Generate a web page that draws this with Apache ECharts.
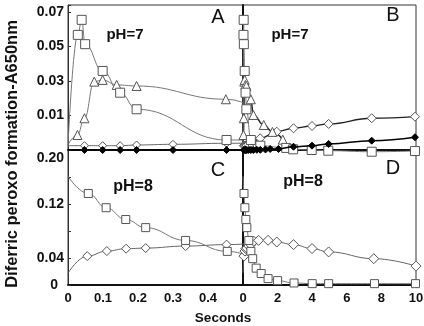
<!DOCTYPE html>
<html>
<head>
<meta charset="utf-8">
<script src="https://cdn.jsdelivr.net/npm/echarts@6/dist/echarts.min.js"></script>
<style>
html, body { margin: 0; padding: 0; background: #fff; }
#chart { width: 424px; height: 326px; }
</style>
</head>
<body>
<div id="chart"></div>
<script>
// pH 7 data (panels A and B share it, A only shows the first 0.5 s)
let ph7SquareT = [0, 0.028, 0.039, 0.049, 0.099, 0.149, 0.196, 0.453, 1.0, 2.5, 2.9, 3.97, 4.93, 7.44, 9.94];
let ph7SquareV = [-0.007, 0.0567, 0.0654, 0.0513, 0.0358, 0.0232, 0.0136, -0.0042, -0.0075, -0.0088, -0.0096, -0.01, -0.0104, -0.011, -0.0106];
let ph7TriT = [0, 0.027, 0.047, 0.075, 0.099, 0.139, 0.196, 0.451, 0.6, 1.2, 1.7, 2.3];
let ph7TriV = [-0.007, -0.0013, 0.0084, 0.0296, 0.0306, 0.0277, 0.0271, 0.0194, 0.0103, 0.0045, 0.0005, -0.004];
let ph7OpenT = [0, 0.047, 0.099, 0.149, 0.196, 0.3, 0.453, 0.99, 1.95, 2.92, 3.99, 4.95, 7.44, 9.94];
let ph7OpenV = [-0.0075, -0.0075, -0.0075, -0.0075, -0.0071, -0.0067, -0.0061, -0.0032, 0.0006, 0.0026, 0.0039, 0.0051, 0.0084, 0.0093];
let ph7FillT = [0, 0.047, 0.099, 0.149, 0.196, 0.3, 0.453, 0.6, 0.8, 1.0, 1.3, 1.57, 2.05, 2.92, 3.99, 4.95, 7.44, 9.94];
let ph7FillV = [-0.01, -0.01, -0.01, -0.01, -0.01, -0.01, -0.01, -0.01, -0.0099, -0.0099, -0.0097, -0.0094, -0.0094, -0.0081, -0.0075, -0.0065, -0.0046, -0.0026];

// pH 8 data (panels C and D)
let ph8SquareT = [0, 0.058, 0.109, 0.165, 0.222, 0.336, 0.455, 0.56, 0.76, 1.05, 1.45, 2.0, 2.95, 4.0, 4.95, 7.6, 9.97];
let ph8SquareV = [0.161, 0.1356, 0.1145, 0.097, 0.085, 0.066, 0.0498, 0.039, 0.025, 0.017, 0.0095, 0.0065, 0.003, 0.002, 0.002, 0.002, 0.002];
let ph8DiaT = [0, 0.055, 0.111, 0.166, 0.222, 0.336, 0.453, 0.62, 0.9, 1.45, 1.95, 2.92, 3.99, 4.95, 7.56, 10.0];
let ph8DiaV = [0.0175, 0.0428, 0.0503, 0.0538, 0.0547, 0.0577, 0.0598, 0.065, 0.0662, 0.0662, 0.0637, 0.0598, 0.054, 0.049, 0.039, 0.028];

let shortTicks = [0, 0.1, 0.2, 0.3, 0.4];
let longTicks = [0, 2, 4, 6, 8, 10];
let topLabels = [0.01, 0.03, 0.05, 0.07];
let bottomLabels = [0, 0.04, 0.12, 0.2];

const FONT = '"Liberation Sans", Arial, sans-serif';

let chart = echarts.init(document.getElementById('chart'));

// first point of every curve is the fitted start, drawn without a marker
function points(t, v) {
    return t.map(function (x, i) {
        if (i === 0) return { value: [x, v[i]], symbol: 'none' };
        return [x, v[i]];
    });
}

let looks = {
    square: { symbol: 'rect', size: 8, fill: '#fff', border: '#555', line: '#777', lw: 1 },
    tri: { symbol: 'triangle', size: 9, fill: '#fff', border: '#555', line: '#777', lw: 1 },
    open: { symbol: 'diamond', size: 9, fill: '#fff', border: '#555', line: '#666', lw: 1 },
    fill: { symbol: 'diamond', size: 7, fill: '#000', border: '#000', line: '#000', lw: 1.5 }
};

function makeSeries(idx, t, v, look, clip, extra) {
    extra = extra || {};
    return {
        type: 'line',
        xAxisIndex: idx,
        yAxisIndex: idx,
        data: points(t, v),
        symbol: look.symbol,
        symbolSize: extra.size || look.size,
        smooth: 0.45,
        smoothMonotone: 'x',
        clip: clip,
        animation: false,
        itemStyle: { color: look.fill, borderColor: look.border, borderWidth: 1 },
        lineStyle: { color: extra.line || look.line, width: extra.lw || look.lw },
        z: extra.z || 2
    };
}

let grids = [
    { left: 68, top: 5, width: 175, height: 145 },
    { left: 243, top: 5, width: 173, height: 145 },
    { left: 68, top: 150, width: 175, height: 135 },
    { left: 243, top: 150, width: 173, height: 135 }
].map(function (g) {
    return Object.assign(g, { show: true, borderColor: '#333', borderWidth: 1, outerBoundsMode: 'none', containLabel: false });
});

function xAx(idx, max, interval, showLabels, allowed) {
    return {
        type: 'value', gridIndex: idx, min: 0, max: max, interval: interval,
        splitLine: { show: false },
        axisTick: { show: false },
        axisLine: { show: true, onZero: false, lineStyle: { color: '#111', width: 2 } },
        axisLabel: {
            show: showLabels, margin: 7, color: '#111', fontWeight: 'bold', fontSize: 13, fontFamily: FONT,
            showMaxLabel: true, showMinLabel: true,
            formatter: function (val) {
                let hit = allowed.some(function (a) { return Math.abs(a - val) < 1e-9; });
                return hit ? String(Math.round(val * 10) / 10) : '';
            }
        }
    };
}

function yAx(idx, min, max, interval, side) {
    let ax = {
        type: 'value', gridIndex: idx, min: min, max: max, interval: interval,
        splitLine: { show: false },
        axisLine: { show: true, onZero: false, lineStyle: { color: side ? '#333' : '#111', width: side ? 1 : 2 } },
        axisTick: { show: !!side, inside: true, length: 3, lineStyle: { color: '#333' } },
        axisLabel: { show: false }
    };
    if (side === 'top') {
        ax.axisLabel = {
            show: true, margin: 4, color: '#111', fontWeight: 'bold', fontSize: 14, fontFamily: FONT,
            showMaxLabel: true,
            formatter: function (val) {
                let hit = topLabels.some(function (a) { return Math.abs(a - val) < 1e-9; });
                return hit ? val.toFixed(2) : '';
            }
        };
    } else if (side === 'bottom') {
        ax.axisLabel = {
            show: true, margin: 4, color: '#111', fontWeight: 'bold', fontSize: 14, fontFamily: FONT,
            showMaxLabel: true, showMinLabel: true,
            formatter: function (val) {
                let hit = bottomLabels.some(function (a) { return Math.abs(a - val) < 1e-9; });
                if (!hit) return '';
                if (val === 0) return '{z|0}';
                if (Math.abs(val - 0.2) < 1e-9) return '{t|0.20}';
                return val.toFixed(2);
            },
            rich: {
                z: { fontWeight: 'bold', fontSize: 14, fontFamily: FONT, color: '#111', padding: [0, 6, 0, 0] },
                t: { fontWeight: 'bold', fontSize: 14, fontFamily: FONT, color: '#111', padding: [16, 0, 0, 0] }
            }
        };
    }
    return ax;
}

function label(text, x, y, size, weight) {
    return {
        type: 'text', x: x, y: y, z: 100,
        style: {
            text: text, fill: '#111', textAlign: 'center', textVerticalAlign: 'middle',
            font: (weight || 'normal') + ' ' + size + 'px ' + FONT
        }
    };
}

let titleY = label('Diferric peroxo formation-A650nm', 12, 154, 16.5, 'bold');
titleY.rotation = Math.PI / 2;

let option = {
    animation: false,
    backgroundColor: '#fff',
    textStyle: { fontFamily: FONT },
    grid: grids,
    xAxis: [
        xAx(0, 0.5, 0.1, false, []),
        xAx(1, 10, 2, false, []),
        xAx(2, 0.5, 0.1, true, shortTicks),
        xAx(3, 10, 2, true, longTicks)
    ],
    yAxis: [
        yAx(0, -0.01, 0.074, 0.02, 'top'),
        yAx(1, -0.01, 0.074, 0.02, null),
        yAx(2, 0, 0.2, 0.04, 'bottom'),
        yAx(3, 0, 0.2, 0.04, null)
    ],
    series: [
        makeSeries(0, ph7FillT, ph7FillV, looks.fill, true, { z: 3 }),
        makeSeries(0, ph7OpenT, ph7OpenV, looks.open, true, { size: 8 }),
        makeSeries(0, ph7TriT, ph7TriV, looks.tri, true),
        makeSeries(0, ph7SquareT, ph7SquareV, looks.square, true, { size: 9 }),

        makeSeries(1, ph7FillT, ph7FillV, looks.fill, false, { z: 3 }),
        makeSeries(1, ph7OpenT, ph7OpenV, looks.open, false, { line: '#222', lw: 1.3 }),
        makeSeries(1, ph7TriT, ph7TriV, looks.tri, false, { line: '#222', lw: 1.5 }),
        makeSeries(1, ph7SquareT, ph7SquareV, looks.square, false, { size: 9 }),

        makeSeries(2, ph8DiaT, ph8DiaV, looks.open, true),
        makeSeries(2, ph8SquareT, ph8SquareV, looks.square, true),

        makeSeries(3, ph8DiaT, ph8DiaV, looks.open, false, { size: 10 }),
        makeSeries(3, ph8SquareT, ph8SquareV, looks.square, false)
    ],
    graphic: [
        label('A', 218, 17, 20),
        label('B', 393, 15, 20),
        label('C', 218, 170, 20),
        label('D', 393, 168, 20),
        label('pH=7', 125, 35, 15, 'bold'),
        label('pH=7', 290, 35, 15, 'bold'),
        label('pH=8', 133, 187, 16, 'bold'),
        label('pH=8', 303, 182, 16, 'bold'),
        label('Seconds', 223, 318, 13.5, 'bold'),
        titleY
    ]
};
chart.setOption(option);
</script>
</body>
</html>
